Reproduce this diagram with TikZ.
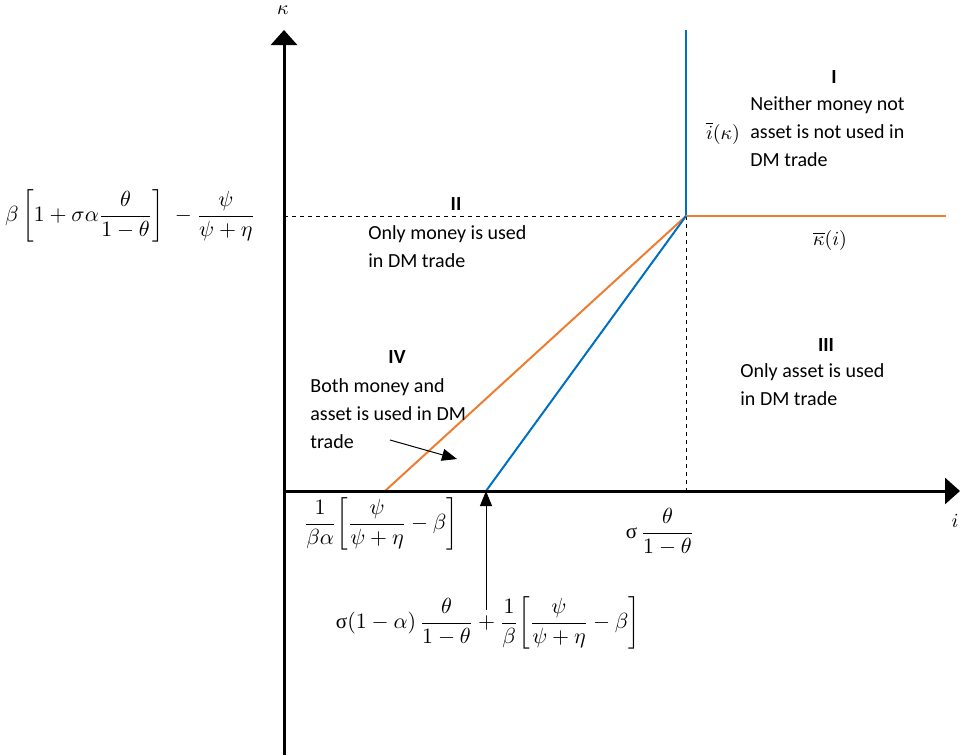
\documentclass[tikz,border=0pt]{standalone}
\usepackage{amsmath}
\usepackage{fontspec}
\setmainfont{Carlito}
\newfontfamily\greekup{Liberation Serif}
\usetikzlibrary{arrows.meta,positioning}
\definecolor{lineblue}{RGB}{0,112,192}
\definecolor{lineorange}{RGB}{237,125,49}
\newcommand{\usig}{\mbox{\greekup σ}}
\tikzset{
  axis/.style={line width=1.5pt, -{Triangle[length=7.5pt,width=13pt]}},
  pointer/.style={line width=0.5pt, -{Triangle[length=7.5pt,width=6pt]}},
  bound/.style={line width=1pt},
  guide/.style={line width=0.5pt, dash pattern=on 2pt off 2pt},
  region/.style={font=\bfseries\fontsize{10}{12}\selectfont, inner sep=0pt},
  regiontext/.style={align=left, anchor=north west, inner sep=0pt, font=\fontsize{10}{14}\selectfont},
  mathlabel/.style={font=\fontsize{10.5}{12}\selectfont, inner sep=0pt},
}

\begin{document}
\begin{tikzpicture}[x=0.5pt, y=-0.5pt]
  \useasboundingbox (0,0) rectangle (963,755);

  % Key points
  \coordinate (O) at (284,491);
  \coordinate (ytop) at (284,30);
  \coordinate (ybot) at (284,755);
  \coordinate (xend) at (960,491);
  \coordinate (K) at (686,216);
  \coordinate (Ktop) at (686,30);
  \coordinate (Kright) at (946,216);
  \coordinate (Yk) at (284,216);
  \coordinate (Xk) at (686,491);
  \coordinate (A) at (385,491);
  \coordinate (B) at (486,491);
  \coordinate (Bfoot) at (486,610);
  \coordinate (ptail) at (390,440);
  \coordinate (phead) at (457,459);

  % Guides
  \draw[guide] (Yk) -- (K);
  \draw[guide] (K) -- (Xk);

  % Boundaries
  \draw[bound, lineblue] (Ktop) -- (K);
  \draw[bound, lineorange] (K) -- (Kright);
  \draw[bound, lineorange] (A) -- (K);
  \draw[bound, lineblue] (B) -- (K);

  % Axes
  \draw[axis] (ybot) -- (ytop);
  \draw[axis] (O) -- (xend);
  \node (kappa) at (283,10) {$\kappa$};
  \node (ilab) at (955,521) {$i$};

  % Axis values
  \node[mathlabel] (kval) at (130,216)
    {$\displaystyle \beta\left[1+\sigma\alpha\frac{\theta}{1-\theta}\right]\;-\frac{\psi}{\psi+\eta}$};
  \node[mathlabel] (aval) at (381,524)
    {$\displaystyle \frac{1}{\beta\alpha}\!\left[\frac{\psi}{\psi+\eta}-\beta\right]$};
  \node[mathlabel] (sval) at (660,532)
    {$\displaystyle \usig\,\frac{\theta}{1-\theta}$};
  \node[mathlabel] (bval) at (488,623)
    {$\displaystyle \usig(1-\alpha)\,\frac{\theta}{1-\theta}+\frac{1}{\beta}\!\left[\frac{\psi}{\psi+\eta}-\beta\right]$};
  \draw[pointer] (Bfoot) -- (B);

  % Curve labels
  \node (ibar) at (723,133) {$\overline{i}(\kappa)$};
  \node (kbar) at (830,240) {$\overline{\kappa}(i)$};

  % Regions
  \node[region] (r1) at (834,77) {I};
  \node[regiontext] (t1) at (750,96) {Neither money not\\asset is not used in\\DM trade};
  \node[region] (r2) at (456,204) {II};
  \node[regiontext] (t2) at (368,225) {Only money is used\\in DM trade};
  \node[region] (r3) at (826,345) {III};
  \node[regiontext] (t3) at (740,363) {Only asset is used\\in DM trade};
  \node[region] (r4) at (397,357) {IV};
  \node[regiontext] (t4) at (310,378) {Both money and\\asset is used in DM\\trade};
  \draw[pointer] (ptail) -- (phead);
\end{tikzpicture}
\end{document}
